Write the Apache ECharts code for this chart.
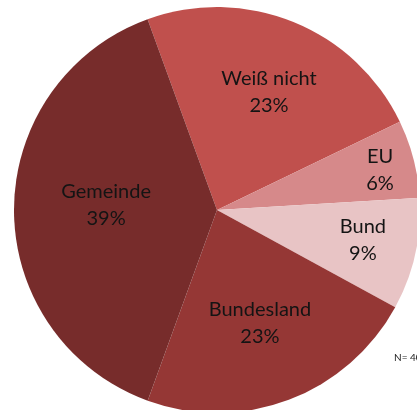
<!DOCTYPE html>
<html>
<head>
<meta charset="utf-8">
<script src="https://cdn.jsdelivr.net/npm/echarts@6/dist/echarts.min.js"></script>
<style>
html,body{margin:0;padding:0;background:#fff;}
#c{width:417px;height:410px;}
</style>
</head>
<body>
<div id="c"></div>
<script>
const categories = ['Weiß nicht', 'EU', 'Bund', 'Bundesland', 'Gemeinde'];
const values = [23.4, 6.2, 8.9, 22.6, 38.9];
const note = 'N= 404';

const colors = ['#C0504D', '#D6898A', '#E8C4C5', '#953735', '#772C2B'];
// label placement: fraction of radius, and angular shift (deg, clockwise)
const labelRatio = [0.637, 0.827, 0.734, 0.598, 0.547];
const labelShift = [1.6, 0.8, -0.9, 0, 2.6];
const cx = 217, cy = 210, R = 203;

const chart = echarts.init(document.getElementById('c'), null, {renderer: 'canvas'});
chart.setOption({
  animation: false,
  backgroundColor: '#fff',
  series: [{
    type: 'pie',
    center: [cx, cy],
    radius: [0, R],
    startAngle: 110,
    clockwise: true,
    avoidLabelOverlap: false,
    data: categories.map((n, i) => ({name: n, value: values[i], itemStyle: {color: colors[i]}})),
    itemStyle: {borderWidth: 0},
    label: {
      show: true,
      position: 'inside',
      formatter: p => p.name + '\n' + Math.round(p.percent) + '%',
      fontFamily: 'Lato',
      fontSize: 20,
      lineHeight: 27,
      color: '#141414',
      align: 'center'
    },
    labelLine: {show: false},
    emphasis: {disabled: true},
    labelLayout: function (p) {
      const r = p.labelRect;
      const lx = r.x + r.width / 2, ly = r.y + r.height / 2;
      const a = Math.atan2(ly - cy, lx - cx) + labelShift[p.dataIndex] * Math.PI / 180;
      const d = labelRatio[p.dataIndex] * R;
      return {dx: cx + d * Math.cos(a) - lx, dy: cy + d * Math.sin(a) - ly};
    }
  }],
  graphic: [{
    type: 'text',
    left: 394,
    top: 353,
    style: {text: note, fontFamily: 'Lato', fontSize: 10, fill: '#222'}
  }]
});
</script>
</body>
</html>
